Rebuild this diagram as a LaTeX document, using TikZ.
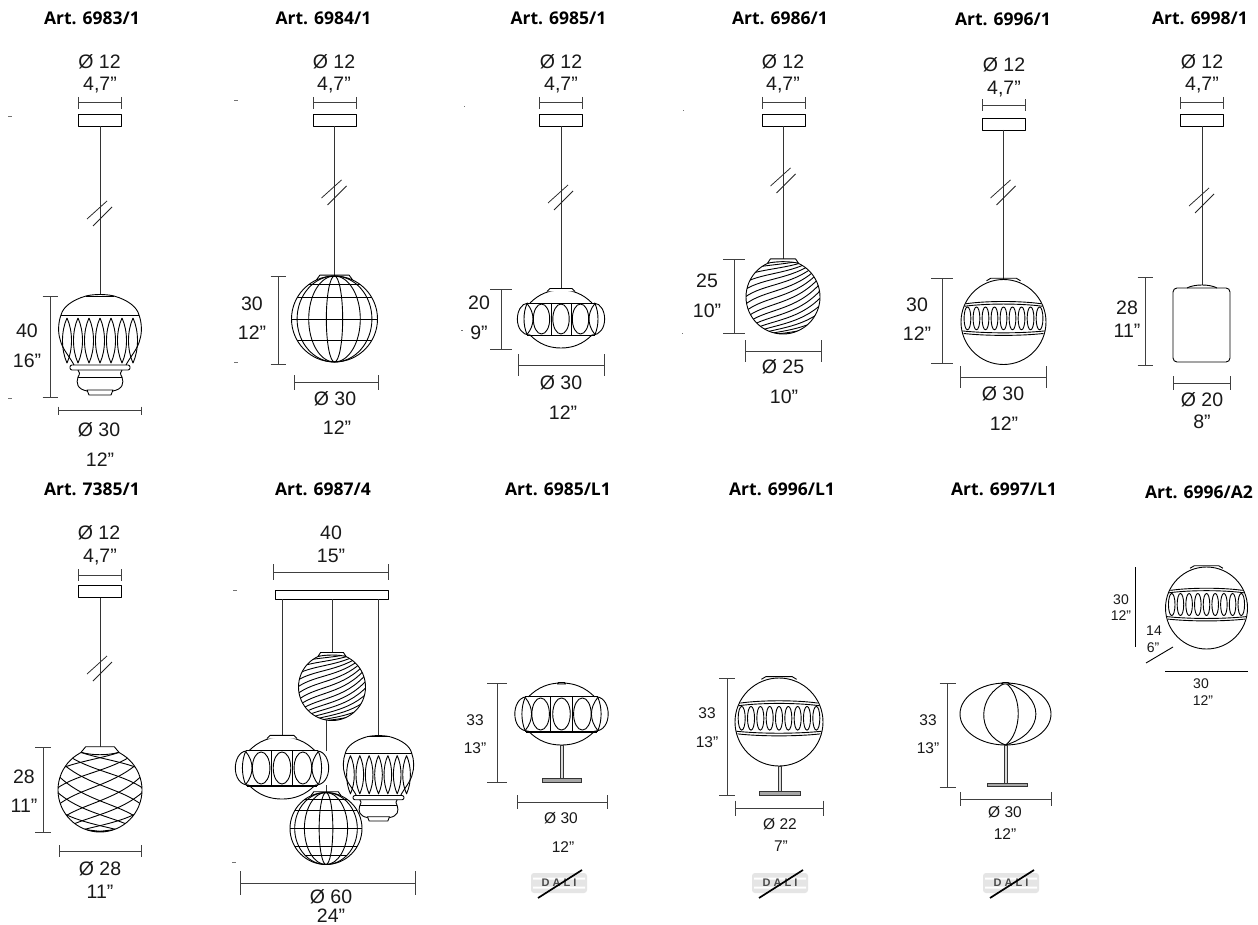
\documentclass[tikz,border=0pt]{standalone}
\usepackage{fontspec}
\setmainfont{Liberation Sans}
\newfontfamily\titlefont{Open Sans}
\tikzset{
  lampline/.style={line width=0.9pt,draw=black,line join=round},
  dimline/.style={line width=1pt,draw=black!75},
  cablel/.style={line width=1pt,draw=black!80},
  markl/.style={line width=0.6pt,draw=black!55},
  brkl/.style={line width=0.75pt,draw=black!85},
  lab/.style={inner sep=0pt,font=\fontsize{19.5}{21}\selectfont,text=black!90},
  labsm/.style={inner sep=0pt,font=\fontsize{15.5}{17}\selectfont,text=black!90},
  labxs/.style={inner sep=0pt,font=\fontsize{14}{16}\selectfont,text=black!90},
  ttl/.style={inner sep=0pt,font=\titlefont\bfseries\fontsize{17.5}{20}\selectfont,text=black},
}
\newcounter{nn}
\newcommand\lb[4][lab]{\stepcounter{nn}\node[#1,name=n\thenn] at (#2,#3) {#4};}
\newcommand\dimH[4]{\draw[dimline] (#1,#3) -- (#2,#3) (#1,#3-#4) -- (#1,#3+#4) (#2,#3-#4) -- (#2,#3+#4);}
\newcommand\dimV[4]{\draw[dimline] (#1,#2) -- (#1,#3) (#1-#4,#2) -- (#1+#4,#2) (#1-#4,#3) -- (#1+#4,#3);}
\newcommand\pendant[5]{
  \dimH{#1-21.5}{#1+21.5}{#2}{6}
  \draw[lampline] (#1-21.5,#3) rectangle (#1+21.5,#3+12);
  \draw[cablel] (#1,#3+12) -- (#1,#4);
  \draw[brkl] (#1-13,#5+6) -- (#1+7,#5-12) (#1-7,#5+13) -- (#1+12,#5-6);
}
\newcommand\bulblamp[3]{\begin{scope}[shift={(#1,#2)},scale=#3]
  \fill[white] (-14,1) .. controls (-28,5) and (-37,12) .. (-39,20) .. controls (-42,28) and (-42,38) .. (-40,44) .. controls (-38,54) and (-30,62) .. (-26,70) -- (26,70) .. controls (30,62) and (38,54) .. (40,44) .. controls (42,38) and (42,28) .. (39,20) .. controls (37,12) and (28,5) .. (14,1) -- cycle;
  \draw[lampline] (-14,1) .. controls (-6,-1) and (6,-1) .. (14,1);
  \draw[lampline] (-14,1) -- (14,1);
  \foreach \s in {-1,1}{\begin{scope}[xscale=\s]
    \draw[lampline] (14,1) .. controls (28,5) and (37,12) .. (39,20) .. controls (42,28) and (42,38) .. (40,44) .. controls (38,54) and (30,62) .. (26,70);
    \draw[lampline] (22,75) .. controls (20,77) and (20,79) .. (22,82) .. controls (24,88) and (23,94) .. (13,96);
  \end{scope}}
  \draw[lampline] (-39,20) -- (39,20);
  \foreach \c in {-33,-22,-11,0,11,22,33}{
    \draw[lampline] (\c,23) .. controls (\c+6,36) and (\c+6,55) .. (\c,68) .. controls (\c-6,55) and (\c-6,36) .. (\c,23);}
  \draw[lampline,rounded corners=2] (-30,70) rectangle (30,75);
  \draw[lampline] (-22,82) -- (22,82);
  \draw[lampline] (-13,95) -- (13,95) -- (11,100) -- (-11,100) -- cycle;
\end{scope}}
\newcommand\gridlamp[3]{\begin{scope}[shift={(#1,#2)},scale=#3]
  \fill[white] (0,0) circle (1);
  \draw[lampline] (0,0) circle (1);
  \foreach \a in {0.19,0.6,0.87}{\draw[lampline] (0,0) ellipse [x radius=\a,y radius=1];}
  \foreach \y/\x in {-0.8/0.6,-0.49/0.872,0/1,0.49/0.872}{\draw[lampline] (-\x,\y) -- (\x,\y);}
  \draw[lampline] (-0.42,-0.91) -- (-0.34,-1.02) -- (0.34,-1.02) -- (0.42,-0.91);
\end{scope}}
\newcommand\swirl[3]{\begin{scope}[shift={(#1,#2)},scale=#3]
  \fill[white] (0,0) circle (1);
  \begin{scope}
    \clip (0,0) circle (1);
    \foreach \a in {-80,-70,...,80}{
      \pgfmathsetmacro\yo{sin(\a)}\pgfmathsetmacro\ko{cos(\a)}
      \draw[lampline] (-1.05,{\yo+0.6*\ko}) .. controls (-0.5,{\yo+0.12*\ko}) and (0.35,{\yo+0.25*\ko}) .. (1.05,{\yo-0.6*\ko});
    }
  \end{scope}
  \draw[lampline] (0,0) circle (1);
  \draw[lampline,fill=white] (-0.42,-0.91) -- (-0.34,-1.03) -- (0.34,-1.03) -- (0.42,-0.91) .. controls (0.2,-0.97) and (-0.2,-0.97) .. (-0.42,-0.91);
\end{scope}}
\newcommand\netlamp[3]{\begin{scope}[shift={(#1,#2)},scale=#3]
  \fill[white] (0,0) circle (1);
  \begin{scope}
    \clip (0,0) circle (1);
    \foreach \s in {-1,1}{\begin{scope}[xscale=\s]
    \foreach \a in {-75,-54,-32,-11,11,32,54,75}{
      \pgfmathsetmacro\yo{sin(\a)}\pgfmathsetmacro\ko{cos(\a)}
      \draw[lampline] (-1.05,{\yo+0.6*\ko}) .. controls (-0.5,{\yo+0.12*\ko}) and (0.4,{\yo+0.1*\ko}) .. (1.05,{\yo-0.6*\ko});
    }\end{scope}}
  \end{scope}
  \draw[lampline] (0,0) circle (1);
  \draw[lampline,fill=white] (-0.45,-0.9) -- (-0.34,-1.03) -- (0.34,-1.03) -- (0.45,-0.9) .. controls (0.2,-0.82) and (-0.2,-0.82) .. (-0.45,-0.9);
\end{scope}}
\newcommand\squat[3]{\begin{scope}[shift={(#1,#2)},scale=#3]
  \fill[white] (0,0) ellipse [x radius=38,y radius=29];
  \fill[white] (-42,-16) rectangle (42,16);
  \draw[lampline] (-31,-16) .. controls (-22,-25) and (-12,-29) .. (0,-29) .. controls (12,-29) and (22,-25) .. (31,-16);
  \draw[lampline] (-31,16) .. controls (-22,25) and (-12,29) .. (0,29) .. controls (12,29) and (22,25) .. (31,16);
  \draw[lampline] (-34,-16) -- (34,-16) (-34,16) -- (34,16);
  \draw[lampline] (-33,16.8) -- (33,16.8);
  \foreach \s in {-1,1}{\begin{scope}[xscale=\s]
    \draw[lampline] (33,-16) .. controls (47,-15) and (48,16) .. (31,16);
    \draw[lampline] (34,-15.5) .. controls (26,-6) and (26,6) .. (34,15.5);
    \draw[lampline] (34,-15.5) .. controls (38,-6) and (38,6) .. (34,15.5);
    \draw[lampline] (10,-16) -- (10,16);
  \end{scope}}
  \foreach \c in {-19.5,0,19.5}{\draw[lampline] (\c,0) ellipse [x radius=8.2,y radius=15];}
\end{scope}}
\newcommand\squatcap[3]{\begin{scope}[shift={(#1,#2)},scale=#3]
  \draw[lampline,fill=white] (-14,-27.5) -- (-11,-30.5) -- (11,-30.5) -- (14,-27.5);
\end{scope}}
\newcommand\bandglobe[3]{\begin{scope}[shift={(#1,#2)},scale=#3]
  \fill[white] (0,0) circle (1);
  \draw[lampline] (0,0) circle (1);
  \draw[lampline] (-0.88,-0.43) .. controls (-0.4,-0.5) and (0.4,-0.5) .. (0.88,-0.43);
  \draw[lampline] (-0.92,-0.37) .. controls (-0.4,-0.44) and (0.4,-0.44) .. (0.92,-0.37);
  \draw[lampline] (-0.97,0.21) .. controls (-0.4,0.27) and (0.4,0.27) .. (0.97,0.21);
  \draw[lampline] (-0.94,0.27) .. controls (-0.4,0.33) and (0.4,0.33) .. (0.94,0.27);
  \foreach \i in {-4,...,4}{\draw[lampline] ({\i*0.212},-0.085) ellipse [x radius=0.08,y radius=0.27];}
  \draw[lampline] (-0.4,-0.97) -- (-0.3,-1.03) -- (0.3,-1.03) -- (0.4,-0.97);
\end{scope}}
\newcommand\stem[5]{
  \draw[line width=0.8pt,draw=black!80,fill=black!15] (#1-1.5,#2) rectangle (#1+1.5,#3);
  \draw[line width=0.8pt,draw=black!80,fill=black!35] (#4,#3) rectangle (#5,#3+3.5);
}
\newcommand\dali[2]{\begin{scope}[shift={(#1,#2)}]
  \fill[black!10,rounded corners=3] (-28,-10) rectangle (28,10);
  \fill[white] (-26,-5.5) rectangle (26,-3.5) (-26,3.5) rectangle (26,5.5);
  \stepcounter{nn}\node[inner sep=0pt,font=\bfseries\fontsize{11}{12}\selectfont,text=black!70,name=n\thenn] at (0,0) {D\kern3pt A\kern3pt L\kern3pt I};
  \draw[line width=1.7pt,draw=black] (-21,15) -- (23,-13);
\end{scope}}
\begin{document}
\begin{tikzpicture}[x=1pt,y=-1pt]
\useasboundingbox (0,0) rectangle (1258,925);
\fill[white] (0,0) rectangle (1258,925);
% titles
\lb[ttl]{92}{18}{Art. 6983/1}
\lb[ttl]{323.5}{18}{Art. 6984/1}
\lb[ttl]{558.5}{18}{Art. 6985/1}
\lb[ttl]{780}{18}{Art. 6986/1}
\lb[ttl]{1003}{19}{Art. 6996/1}
\lb[ttl]{1200}{18}{Art. 6998/1}
\lb[ttl]{92}{489}{Art. 7385/1}
\lb[ttl]{323}{489}{Art. 6987/4}
\lb[ttl]{558}{489}{Art. 6985/L1}
\lb[ttl]{782}{489}{Art. 6996/L1}
\lb[ttl]{1004}{489}{Art. 6997/L1}
\lb[ttl]{1199}{492}{Art. 6996/A2}
% stray marks
\draw[markl] (8,116) -- (12,116) (8,398) -- (12,398) (234,100) -- (238,100) (234,362) -- (238,362) (464,106) -- (465,106) (461,330) -- (463,330) (683,110) -- (684,110) (682,333) -- (683,333) (233,590) -- (237,590) (232,862) -- (236,862);
% 6983/1
\pendant{100}{103}{114}{295}{213}
\bulblamp{100}{295}{1}
\dimV{50}{297}{397}{7.5}
\dimH{58}{141}{410.5}{4}
\lb{99.5}{62}{Ø 12}\lb{100}{85}{4,7”}
\lb{27}{331}{40}\lb{27}{361}{16”}
\lb{99}{430}{Ø 30}\lb{100}{460}{12”}
% 6984/1
\pendant{334.5}{103}{114}{277}{192}
\gridlamp{334.5}{319}{43}
\dimV{278}{277}{364}{7.5}
\dimH{294}{378}{382.5}{7.5}
\lb{334}{62}{Ø 12}\lb{334}{85}{4,7”}
\lb{252}{304}{30}\lb{252}{333}{12”}
\lb{335}{399}{Ø 30}\lb{337}{428}{12”}
% 6985/1
\pendant{561}{103}{114}{290}{197}
\squat{561}{319}{1}
\squatcap{561}{319}{1}
\dimV{501}{290}{349}{11}
\dimH{518}{604}{365}{11}
\lb{561}{62}{Ø 12}\lb{561}{85}{4,7”}
\lb{479}{303}{20}\lb{479}{333}{9”}
\lb{561}{383}{Ø 30}\lb{563}{413}{12”}
% 6986/1
\pendant{783.5}{103}{114}{259}{180}
\swirl{783}{297}{37}
\dimV{734}{260}{333}{11}
\dimH{745}{821}{351}{11}
\lb{783}{62}{Ø 12}\lb{783}{85}{4,7”}
\lb{707}{281}{25}\lb{707}{311}{10”}
\lb{783}{367}{Ø 25}\lb{784}{397}{10”}
% 6996/1
\pendant{1003.5}{105.5}{118}{280}{192}
\bandglobe{1003.5}{322}{42.5}
\dimV{942}{279}{363}{11}
\dimH{960.5}{1046}{377}{11}
\lb{1004}{65}{Ø 12}\lb{1004}{89}{4,7”}
\lb{917}{305}{30}\lb{917}{334}{12”}
\lb{1003}{394}{Ø 30}\lb{1004}{424}{12”}
% 6998/1
\pendant{1202}{103}{114}{285}{200}
\draw[lampline] (1187,288) .. controls (1194,284) and (1210,284) .. (1217,288);
\draw[lampline,rounded corners=4] (1173,288) rectangle (1230,362);
\dimV{1145}{278}{365}{7.5}
\dimH{1173}{1230}{383}{7}
\lb{1202}{62}{Ø 12}\lb{1202}{85}{4,7”}
\lb{1127}{308}{28}\lb{1127}{331}{11”}
\lb{1202}{400}{Ø 20}\lb{1202}{422}{8”}
% 7385/1
\pendant{100}{575}{585.5}{747}{668}
\netlamp{100}{790}{42}
\dimV{43}{747.5}{832}{8}
\dimH{59}{141}{851}{6}
\lb{99}{533}{Ø 12}\lb{100}{557}{4,7”}
\lb{24}{777}{28}\lb{24}{806}{11”}
\lb{100}{869}{Ø 28}\lb{100}{892}{11”}
% 6987/4
\dimH{273}{388}{572}{8}
\draw[lampline] (275,590.5) rectangle (388,599);
\draw[cablel] (282,599) -- (282,738) (332,599) -- (332,654) (378.5,599) -- (378.5,737) (326,720) -- (326,793);
\swirl{332}{687}{33.5}
\squat{282}{768}{1.07}
\squatcap{282}{768}{1.07}
\bulblamp{378.5}{736}{0.85}
\gridlamp{326}{828.5}{36}
\draw[lampline] (305,855) -- (347,855);
\dimH{240}{415}{883}{12}
\lb{331}{533}{40}\lb{331}{556}{15”}
\lb{331}{897}{Ø 60}\lb{331}{916}{24”}
% 6985/L1
\squat{561.5}{714}{1.07}
\draw[lampline,fill=black!30] (557.5,684) -- (558.5,682.5) -- (564.5,682.5) -- (565.5,684) -- cycle;
\stem{561.5}{745}{778.5}{542}{581}
\dimV{497}{683}{782}{10}
\dimH{517}{607}{802}{7}
\lb[labsm]{475}{720}{33}\lb[labsm]{475}{748}{13”}
\lb[labsm]{561}{818}{Ø 30}\lb[labsm]{563}{847}{12”}
\dali{559}{883}
% 6996/L1
\bandglobe{779}{722}{44}
\stem{779.5}{766}{791.5}{759}{800}
\dimV{727}{678}{795}{8}
\dimH{735}{823}{808}{7.5}
\lb[labsm]{707}{713}{33}\lb[labsm]{707}{742}{13”}
\lb[labsm]{780}{824}{Ø 22}\lb[labsm]{781}{846}{7”}
\dali{780}{883}
% 6997/L1
\draw[lampline] (1005.5,714) ellipse [x radius=45.5,y radius=31];
\draw[lampline] (1005.5,683) .. controls (978,695) and (975,733) .. (1005.5,745);
\draw[lampline] (1005.5,683) .. controls (1023,695) and (1022,733) .. (1005.5,745);
\draw[lampline] (1005.5,683) .. controls (1046,695) and (1046,733) .. (1005.5,745);
\draw[lampline,fill=black!30] (1001,684) -- (1003,682.5) -- (1008,682.5) -- (1010,684) -- cycle;
\stem{1005.5}{745}{783}{987}{1027}
\dimV{947.5}{683}{787}{8}
\dimH{960.5}{1051}{799}{7}
\lb[labsm]{928}{720}{33}\lb[labsm]{928}{748}{13”}
\lb[labsm]{1005}{812}{Ø 30}\lb[labsm]{1005}{834}{12”}
\dali{1011}{883}
% 6996/A2
\bandglobe{1206.5}{608}{41}
\draw[lampline] (1135,567) -- (1135,647);
\draw[lampline] (1146,663) -- (1173,647);
\draw[lampline] (1165,671) -- (1248,671);
\lb[labxs]{1121}{600}{30}\lb[labxs]{1121}{616}{12”}
\lb[labxs]{1154}{631}{14}\lb[labxs]{1153}{648}{6”}
\lb[labxs]{1201}{684}{30}\lb[labxs]{1203}{701}{12”}
\end{tikzpicture}
\end{document}
